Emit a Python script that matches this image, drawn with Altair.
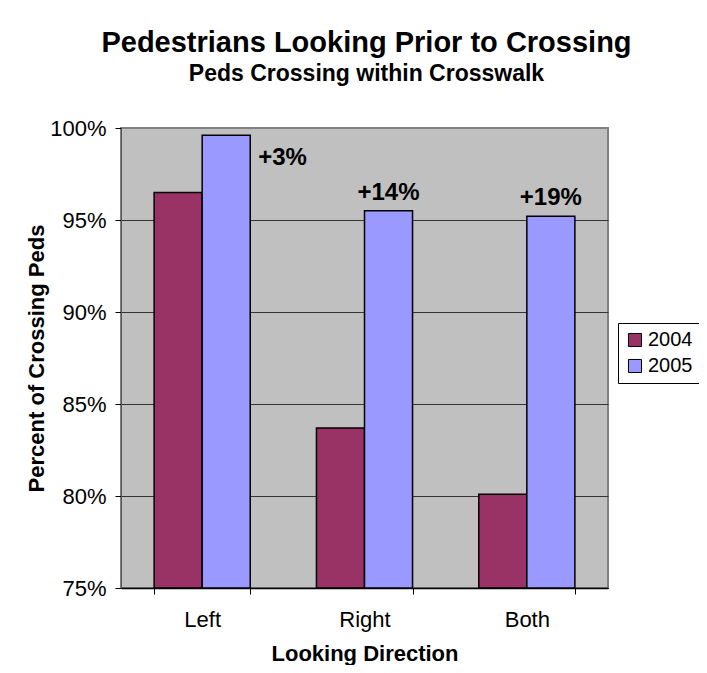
import altair as alt
import pandas as pd

categories = ["Left", "Right", "Both"]
pct_2004 = [96.5, 83.7, 80.1]
pct_2005 = [99.6, 95.5, 95.2]
change_labels = ["+3%", "+14%", "+19%"]
years = ["2004", "2005"]
y_ticks = [0.75, 0.80, 0.85, 0.90, 0.95, 1.00]

rows = []
for c, a, b in zip(categories, pct_2004, pct_2005):
    rows.append({"dir": c, "year": "2004", "value": a / 100})
    rows.append({"dir": c, "year": "2005", "value": b / 100})
df = pd.DataFrame(rows)

lab = pd.DataFrame({"dir": categories, "year": "2005",
                    "value": [v / 100 for v in pct_2005], "label": change_labels})

FONT = "Liberation Sans"

x_enc = alt.X("dir:N", sort=categories, title="Looking Direction",
              scale=alt.Scale(paddingInner=0.408, paddingOuter=0.204),
              axis=alt.Axis(labelAngle=0, tickBand="extent", labelFontSize=22,
                            titleFontSize=22, titleFontWeight="bold", labelPadding=15,
                            titlePadding=13, tickSize=6, tickColor="black",
                            domainColor="black", domainWidth=1.5, labelColor="black",
                            titleColor="black", labelFont=FONT, titleFont=FONT, grid=False))
y_scale = alt.Scale(domain=[0.75, 1.0], zero=False, nice=False)
y_enc = alt.Y("value:Q", scale=y_scale, title="Percent of Crossing Peds",
              axis=alt.Axis(values=y_ticks, format=".0%", labelFontSize=22,
                            titleFontSize=22, titleFontWeight="bold", labelPadding=9,
                            tickSize=6, tickColor="black", domainColor="#555555",
                            gridColor=alt.condition("datum.value >= 0.999",
                                                    alt.value("#808080"), alt.value("#333333")),
                            gridWidth=1, labelColor="black",
                            titleColor="black", labelFont=FONT, titleFont=FONT,
                            titleX=-85, titleY=230, titleBaseline="middle"))
xoff = alt.XOffset("year:N", sort=years, scale=alt.Scale(paddingInner=0, paddingOuter=0))

bars = alt.Chart(df).mark_bar(stroke="black", strokeWidth=1.5).encode(
    x=x_enc,
    xOffset=xoff,
    y=y_enc,
    y2=alt.datum(0.75),
    color=alt.Color("year:N", sort=years,
                    scale=alt.Scale(domain=years, range=["#993366", "#9999FF"]),
                    legend=alt.Legend(title=None, orient="none", legendX=497, legendY=195,
                                      symbolType="square", symbolSize=170,
                                      symbolStrokeColor="black", symbolStrokeWidth=1,
                                      labelFontSize=20, labelFont=FONT, labelColor="black",
                                      strokeColor="black", fillColor="white", padding=7,
                                      rowPadding=6, labelOffset=3)),
)

lab_main = alt.Chart(lab).transform_filter(alt.datum.dir != "Left").mark_text(
    font=FONT, fontSize=24, fontWeight="bold", color="black", baseline="alphabetic",
    align="center", dy=-11).encode(
    x=alt.X("dir:N", sort=categories),
    xOffset=xoff,
    y=alt.Y("value:Q", scale=y_scale),
    text="label:N",
)
lab_left = alt.Chart(lab).transform_filter(alt.datum.dir == "Left").mark_text(
    font=FONT, fontSize=24, fontWeight="bold", color="black", baseline="alphabetic",
    align="left", dx=32, dy=30).encode(
    x=alt.X("dir:N", sort=categories),
    xOffset=xoff,
    y=alt.Y("value:Q", scale=y_scale),
    text="label:N",
)

chart = alt.layer(bars, lab_main, lab_left).properties(
    width=487, height=460,
    padding={"left": 113, "top": 120, "right": 91, "bottom": 77},
    autosize=alt.AutoSizeParams(type="none"),
    background="white",
    title=alt.TitleParams(text="Pedestrians Looking Prior to Crossing",
                          subtitle="Peds Crossing within Crosswalk",
                          font=FONT, subtitleFont=FONT, fontSize=29, subtitleFontSize=23,
                          fontWeight="bold", subtitleFontWeight="bold", color="black",
                          subtitleColor="black", anchor="middle", offset=31,
                          subtitlePadding=5, dx=2),
).configure_view(
    fill="#C0C0C0", stroke="#808080", strokeWidth=2
)

chart.save("out.html", embed_options={"renderer": "svg", "actions": False})
